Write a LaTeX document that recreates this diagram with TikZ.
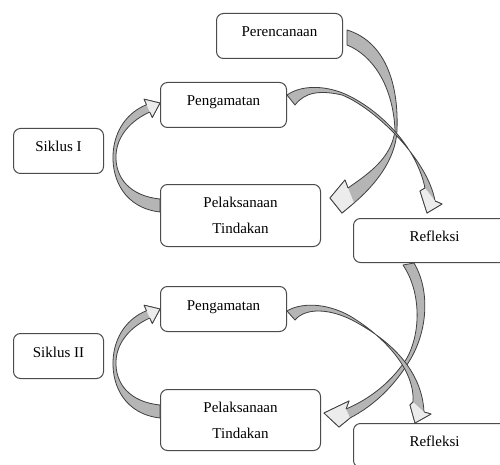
\documentclass[tikz,border=0pt]{standalone}
\usepackage{fontspec}
\setmainfont{Liberation Serif}
\newcommand\lighthead[5]{%
  \fill[headfill] #1 -- #2 -- #3 -- #4 -- #5 -- cycle;
  \draw[headline] #1 -- #2 -- #3 -- #4 -- #5;}
\begin{document}
\begin{tikzpicture}[x=1pt,y=-1pt,
  box/.style={draw=black!70, line width=1pt, rounded corners=7pt, fill=white,
    font=\fontsize{15}{26}\selectfont, align=center, inner sep=0pt, anchor=north west},
  oneline/.style={text height=10pt, text depth=8pt},
  band/.style={fill=gray!58, draw=black!75, line width=0.8pt, line join=round},
  headfill/.style={fill=gray!15},
  headline/.style={draw=black!75, line width=0.8pt, line join=round}]
\useasboundingbox (0,0) rectangle (500,465);
\clip (0,0) rectangle (500,465);
\fill[white] (0,0) rectangle (500,465);

% boxes
\node[box, oneline, minimum width=126pt, minimum height=45pt] (plan) at (216,13) {Perencanaan};
\node[box, oneline, minimum width=126pt, minimum height=45pt] (obs1) at (160,82) {Pengamatan};
\node[box, oneline, minimum width=90pt, minimum height=45pt] (sik1) at (13,128) {Siklus I};
\node[box, minimum width=160pt, minimum height=62pt] (act1) at (160,184) {Pelaksanaan\\Tindakan};
\node[box, oneline, minimum width=162pt, minimum height=44pt] (ref1) at (353,218) {Refleksi};
\node[box, oneline, minimum width=126pt, minimum height=45pt] (obs2) at (160,286) {Pengamatan};
\node[box, oneline, minimum width=90pt, minimum height=45pt] (sik2) at (13,333) {Siklus II};
\node[box, minimum width=160pt, minimum height=61pt] (act2) at (160,389) {Pelaksanaan\\Tindakan};
\node[box, oneline, minimum width=162pt, minimum height=44pt] (ref2) at (353,423) {Refleksi};

% Cycle I: Perencanaan -> Pelaksanaan
\draw[band] (347,30) .. controls (380,40) and (399,75) .. (397,130)
  .. controls (396,160) and (374,186) .. (354,203) -- (342,213) -- (330,198)
  -- (345,180) -- (348,188) .. controls (368,174) and (392,158) .. (395,130)
  .. controls (393,85) and (372,55) .. (347,45) -- cycle;
\lighthead{(354,203)}{(342,213)}{(330,198)}{(345,180)}{(348,188)}
% Cycle I: Pengamatan -> Refleksi
\draw[band] (287,95) .. controls (300,86) and (320,85) .. (340,92)
  .. controls (370,103) and (415,140) .. (425,188) -- (420,191) -- (427,213)
  -- (442,204) -- (435,201) .. controls (428,160) and (375,108) .. (342,95)
  .. controls (320,90) and (305,92) .. (295,105) -- cycle;
\lighthead{(425,188)}{(420,191)}{(427,213)}{(442,204)}{(435,201)}
% Cycle I: Pelaksanaan -> Pengamatan
\draw[band] (160,212) .. controls (125,208) and (112,180) .. (113,155)
  .. controls (114,130) and (128,112) .. (146.6,104.7) -- (144.1,99.2) -- (160,103)
  -- (152.3,117.4) -- (149.8,112) .. controls (132,120) and (117,135) .. (116,155)
  .. controls (115,178) and (130,196) .. (160,199) -- cycle;
\lighthead{(146.6,104.7)}{(144.1,99.2)}{(160,103)}{(152.3,117.4)}{(149.8,112)}

% Refleksi I -> Pelaksanaan II
\draw[band] (414,263) .. controls (430,290) and (428,330) .. (410,360)
  .. controls (395,385) and (375,405) .. (350,418) -- (339,427) -- (324,413)
  -- (349,401) -- (346,409) .. controls (372,398) and (393,380) .. (407,358)
  .. controls (422,330) and (420,290) .. (403,265) -- cycle;
\lighthead{(350,418)}{(339,427)}{(324,413)}{(349,401)}{(346,409)}
% Cycle II: Pengamatan -> Refleksi
\draw[band] (287,311) .. controls (300,303) and (325,302) .. (350,316)
  .. controls (385,337) and (415,370) .. (413,402) -- (410,405) -- (415,423)
  -- (431,414) -- (424,412) .. controls (422,370) and (390,340) .. (352,320)
  .. controls (328,308) and (305,308) .. (295,320) -- cycle;
\lighthead{(413,402)}{(410,405)}{(415,423)}{(431,414)}{(424,412)}
% Cycle II: Pelaksanaan -> Pengamatan
\begin{scope}[yshift=-206pt]
\draw[band] (160,212) .. controls (125,208) and (112,180) .. (113,155)
  .. controls (114,130) and (128,112) .. (146.6,104.7) -- (144.1,99.2) -- (160,103)
  -- (152.3,117.4) -- (149.8,112) .. controls (132,120) and (117,135) .. (116,155)
  .. controls (115,178) and (130,196) .. (160,199) -- cycle;
\lighthead{(146.6,104.7)}{(144.1,99.2)}{(160,103)}{(152.3,117.4)}{(149.8,112)}
\end{scope}
\end{tikzpicture}
\end{document}
